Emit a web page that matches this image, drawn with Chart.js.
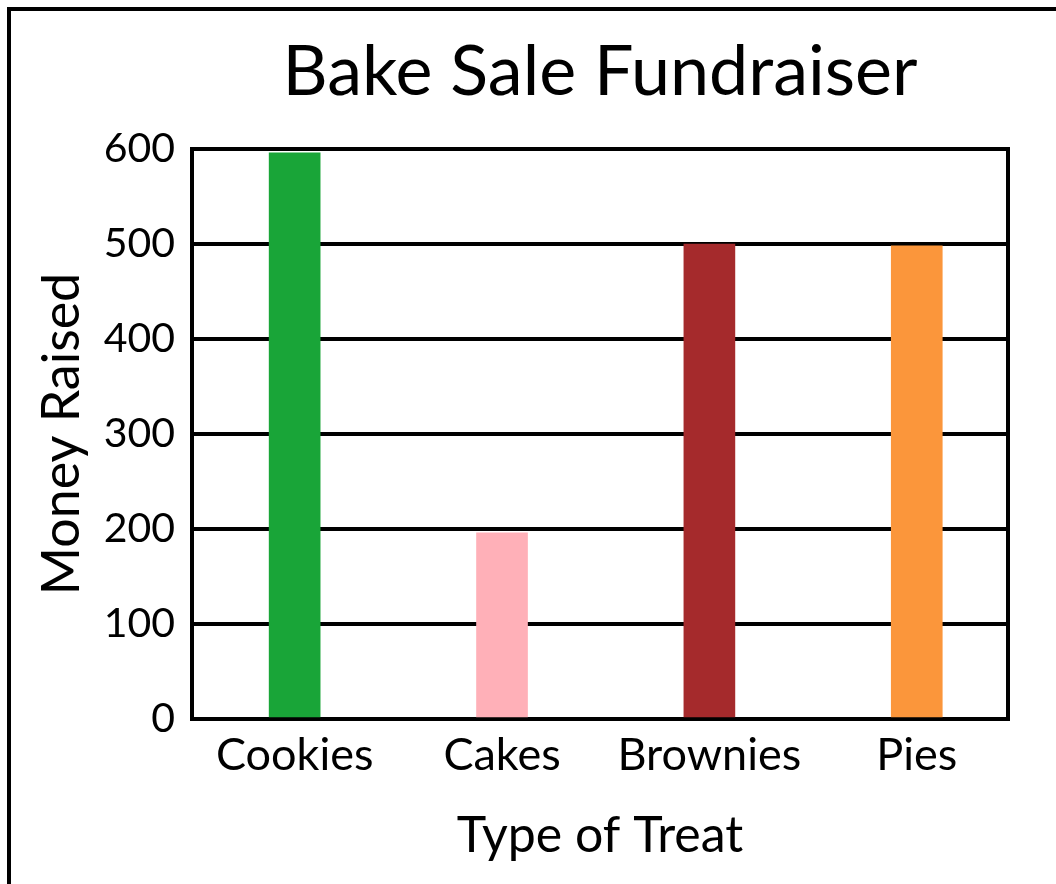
<!DOCTYPE html>
<html>
<head>
<meta charset="utf-8">
<script src="https://cdn.jsdelivr.net/npm/chart.js@4"></script>
<style>
  html, body { margin: 0; padding: 0; background: #fff; overflow: hidden; }
  #frame {
    position: absolute; left: 7px; top: 7px;
    width: 1200px; height: 1000px;
    border: 4px solid #000; box-sizing: border-box;
  }
  #wrap { position: absolute; left: 0; top: 0; width: 1056px; height: 884px; }
</style>
</head>
<body>
<div id="frame"></div>
<div id="wrap"><canvas id="bake-chart" width="1056" height="884"></canvas></div>
<script>
const treats = ["Cookies", "Cakes", "Brownies", "Pies"];
const moneyRaised = [596, 196, 500, 498];
const barColors = ["#19a538", "#ffb0b8", "#a52a2c", "#fb963b"];
const yTicks = [0, 100, 200, 300, 400, 500, 600];

const fontFamily = "Lato, 'Noto Sans', sans-serif";

// bars sit on a numeric x axis (index of the treat) so the spacing can match
const barPoints = moneyRaised.map((v, i) => ({ x: i, y: v }));

// right edge of the plot box (top and left come from the axes/grid)
const plotFrame = {
  id: "plotFrame",
  beforeDatasetsDraw(chart) {
    const a = chart.chartArea;
    const ctx = chart.ctx;
    ctx.save();
    ctx.strokeStyle = "#000";
    ctx.lineWidth = 4;
    ctx.beginPath();
    ctx.moveTo(a.right, a.top - 2);
    ctx.lineTo(a.right, a.bottom + 2);
    ctx.stroke();
    ctx.restore();
  }
};

const ctx = document.getElementById("bake-chart").getContext("2d");
new Chart(ctx, {
  type: "bar",
  data: {
    datasets: [
      {
        label: "Money Raised",
        data: barPoints,
        backgroundColor: barColors,
        borderWidth: 0,
        barThickness: 51,
      },
    ],
  },
  options: {
    responsive: false,
    animation: false,
    layout: { padding: { left: 0, top: 0, right: 48, bottom: 0 } },
    plugins: {
      legend: { display: false },
      tooltip: { enabled: false },
      title: {
        display: true,
        text: "Bake Sale Fundraiser",
        fullSize: false,
        color: "#000",
        font: { family: fontFamily, size: 70, weight: "normal" },
        padding: { top: 30, bottom: 35 },
      },
    },
    scales: {
      x: {
        type: "linear",
        min: -0.495,
        max: 3.44,
        offset: false,
        afterBuildTicks(scale) {
          scale.ticks = treats.map((t, i) => ({ value: i }));
        },
        grid: { display: false, drawTicks: false },
        border: { display: true, color: "#000", width: 4 },
        ticks: {
          color: "#000",
          padding: 9,
          autoSkip: false,
          maxRotation: 0,
          font: { family: fontFamily, size: 45 },
          callback: (v) => treats[v],
        },
        title: {
          display: true,
          text: "Type of Treat",
          color: "#000",
          font: { family: fontFamily, size: 50 },
          padding: { top: 0, bottom: 18 },
        },
        afterFit(scale) { scale.height = 165; },
      },
      y: {
        min: 0,
        max: 600,
        afterBuildTicks(scale) {
          scale.ticks = yTicks.map(v => ({ value: v }));
        },
        grid: { color: "#000", lineWidth: 4, drawTicks: false },
        border: { display: true, color: "#000", width: 4 },
        ticks: {
          color: "#000",
          padding: 17,
          font: { family: fontFamily, size: 41 },
        },
        title: {
          display: true,
          text: "Money Raised",
          color: "#000",
          font: { family: fontFamily, size: 52 },
          padding: { top: 31, bottom: 0 },
        },
        afterFit(scale) { scale.width = 192; },
      },
    },
  },
  plugins: [plotFrame],
});
</script>
</body>
</html>
